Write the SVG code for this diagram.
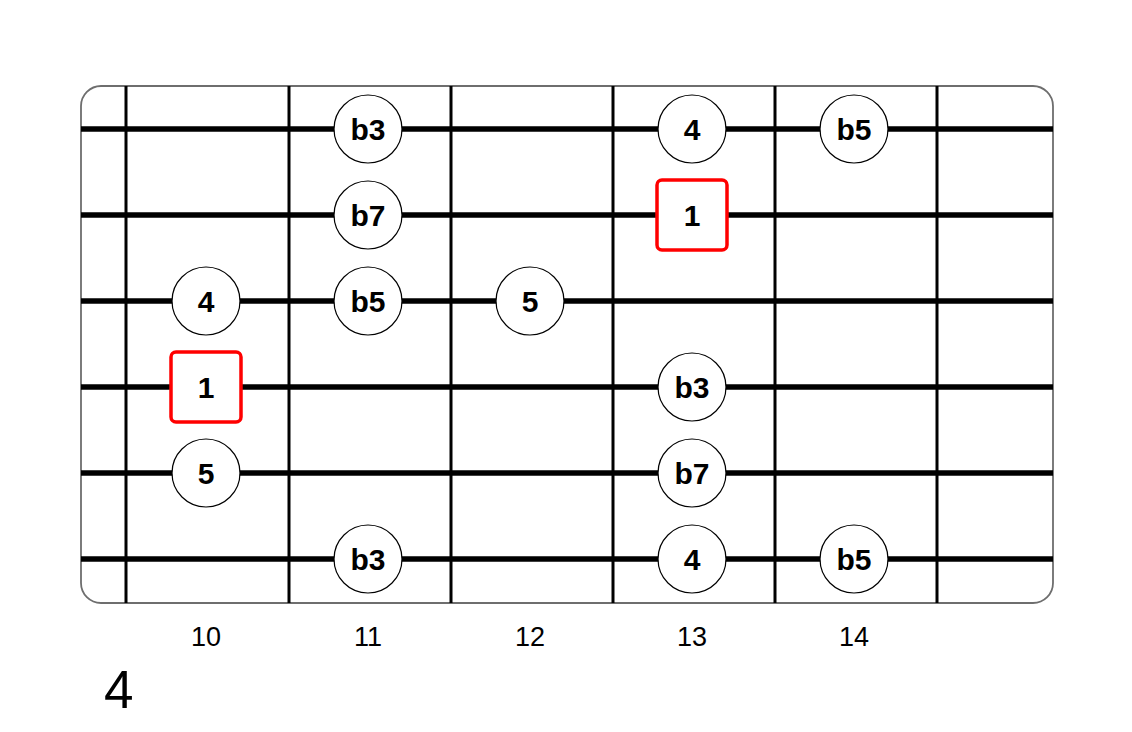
<svg xmlns="http://www.w3.org/2000/svg" width="1132" height="732" viewBox="0 0 1132 732">
<style>
.frame{fill:#fff;stroke:#6e6e6e;stroke-width:1.8}
.fret{stroke:#000;stroke-width:3}
.str{stroke:#000;stroke-width:5.5}
.note circle{fill:#fff;stroke:#000;stroke-width:1.2}
.root rect{fill:#fff;stroke:#ff0000;stroke-width:3.5}
.lbl{font-family:"Liberation Sans",Arial,sans-serif;font-weight:bold;font-size:30px;text-anchor:middle;fill:#000}
.num{font-family:"Liberation Sans",Arial,sans-serif;font-size:27px;text-anchor:middle;fill:#000}
.title{font-family:"Liberation Sans",Arial,sans-serif;font-size:53px;fill:#000}
</style>
<rect class="frame" x="81" y="86" width="972" height="517" rx="20" ry="20"/>
<g id="connectors">
<line class="fret" x1="126" y1="86" x2="126" y2="603"/>
<line class="fret" x1="289" y1="86" x2="289" y2="603"/>
<line class="fret" x1="451" y1="86" x2="451" y2="603"/>
<line class="fret" x1="613" y1="86" x2="613" y2="603"/>
<line class="fret" x1="775" y1="86" x2="775" y2="603"/>
<line class="fret" x1="937" y1="86" x2="937" y2="603"/>
<line class="str" x1="81" y1="129" x2="1053" y2="129"/>
<line class="str" x1="81" y1="215" x2="1053" y2="215"/>
<line class="str" x1="81" y1="301" x2="1053" y2="301"/>
<line class="str" x1="81" y1="387" x2="1053" y2="387"/>
<line class="str" x1="81" y1="473" x2="1053" y2="473"/>
<line class="str" x1="81" y1="559" x2="1053" y2="559"/>
</g>
<g id="n1" class="note"><circle cx="368" cy="129" r="34"/><text class="lbl" x="368" y="140">b3</text></g>
<g id="n2" class="note"><circle cx="692" cy="129" r="34"/><text class="lbl" x="692" y="140">4</text></g>
<g id="n3" class="note"><circle cx="854" cy="129" r="34"/><text class="lbl" x="854" y="140">b5</text></g>
<g id="n4" class="note"><circle cx="368" cy="215" r="34"/><text class="lbl" x="368" y="226">b7</text></g>
<g id="n5" class="root"><rect x="657" y="180" width="70" height="70" rx="5"/><text class="lbl" x="692" y="226">1</text></g>
<g id="n6" class="note"><circle cx="206" cy="301" r="34"/><text class="lbl" x="206" y="312">4</text></g>
<g id="n7" class="note"><circle cx="368" cy="301" r="34"/><text class="lbl" x="368" y="312">b5</text></g>
<g id="n8" class="note"><circle cx="530" cy="301" r="34"/><text class="lbl" x="530" y="312">5</text></g>
<g id="n9" class="root"><rect x="171" y="352" width="70" height="70" rx="5"/><text class="lbl" x="206" y="398">1</text></g>
<g id="n10" class="note"><circle cx="692" cy="387" r="34"/><text class="lbl" x="692" y="398">b3</text></g>
<g id="n11" class="note"><circle cx="206" cy="473" r="34"/><text class="lbl" x="206" y="484">5</text></g>
<g id="n12" class="note"><circle cx="692" cy="473" r="34"/><text class="lbl" x="692" y="484">b7</text></g>
<g id="n13" class="note"><circle cx="368" cy="559" r="34"/><text class="lbl" x="368" y="570">b3</text></g>
<g id="n14" class="note"><circle cx="692" cy="559" r="34"/><text class="lbl" x="692" y="570">4</text></g>
<g id="n15" class="note"><circle cx="854" cy="559" r="34"/><text class="lbl" x="854" y="570">b5</text></g>
<g id="fretnums">
<text class="num" x="206" y="646">10</text>
<text class="num" x="368" y="646">11</text>
<text class="num" x="530" y="646">12</text>
<text class="num" x="692" y="646">13</text>
<text class="num" x="854" y="646">14</text>
</g>
<text class="title" x="104" y="708">4</text>
</svg>
